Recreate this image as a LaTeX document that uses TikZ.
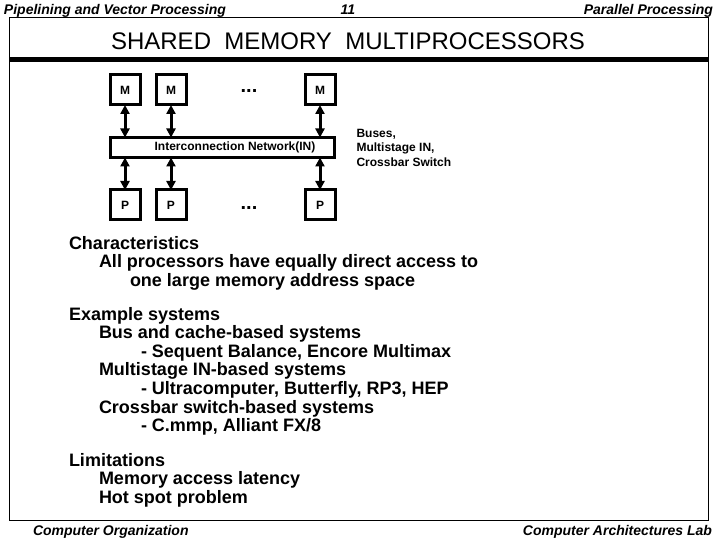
\documentclass[tikz,border=0pt]{standalone}
\usepackage{fontspec}
\setmainfont{Liberation Sans}
\usetikzlibrary{arrows.meta,positioning}

\begin{document}
\begin{tikzpicture}[
  x=1pt, y=-1pt,
  every node/.style={inner sep=0pt, outer sep=0pt},
  unit/.style  ={draw, line width=3pt, minimum width=30pt,
                 minimum height=30pt,
                 font=\fontsize{12}{14}\selectfont\bfseries},
  net/.style   ={draw, line width=3pt, minimum width=224pt,
                 minimum height=20pt,
                 font=\fontsize{12}{14}\selectfont\bfseries},
  dots/.style  ={font=\fontsize{20}{22}\selectfont\bfseries},
  note/.style  ={font=\fontsize{12}{14.5}\selectfont\bfseries, align=left},
  hdr/.style   ={font=\fontsize{14}{16}\selectfont\bfseries\itshape},
  body/.style  ={font=\fontsize{18}{18.6}\selectfont\bfseries,
                 align=left, anchor=north west},
  link/.style  ={<->, line width=3pt},
  >={Triangle[length=9pt,width=9pt]}
]

\useasboundingbox (0,0) rectangle (720,540);

%% ---- Page frame ------------------------------------------------------
\draw[line width=1pt] (9,18) rectangle (708,520);
\draw[line width=5pt] (9,60) -- (708,60);

% header and footer
\node[hdr, anchor=base west] (hleft)  at (4,15)   {Pipelining and Vector Processing};
\node[hdr, anchor=base]      (hpage)  at (348,15) {11};
\node[hdr, anchor=base east] (hright) at (713,15) {Parallel Processing};
\node[hdr, anchor=base west] (fleft)  at (33,535) {Computer Organization};
\node[hdr, anchor=base east] (fright) at (712,535) {Computer Architectures Lab};

% title
\node[anchor=base, font=\fontsize{24}{28}\selectfont] (title) at (348,50)
     {SHARED\ \ MEMORY\ \ MULTIPROCESSORS};

%% ---- Memories, network, processors -----------------------------------
\node[unit]                   (m1) at (125,90) {M};
\node[unit, right=16 of m1]   (m2)             {M};
\node[unit]                   (m3) at (320,90) {M};
\node[dots]                   (mdots) at (249,91) {...};

\node[net] (in) at (222.5,147.5) {\hspace*{25pt}Interconnection Network(IN)};

\node[unit]                   (p1) at (125,205) {P};
\node[unit, right=16 of p1]   (p2)              {P};
\node[unit]                   (p3) at (320,205) {P};
\node[dots]                   (pdots) at (249,208) {...};

\foreach \u in {m1,m2,m3}
  \draw[link] (\u.south) -- (\u.south |- in.north);
\foreach \u in {p1,p2,p3}
  \draw[link] (\u.north) -- (\u.north |- in.south);

\node[note, right=22 of in] (kinds)
     {Buses,\\Multistage IN,\\Crossbar Switch};

%% ---- Text blocks -----------------------------------------------------
\node[body] (chars) at (69,236)
     {Characteristics\\
      \hspace*{30pt}All processors have equally direct access to\\
      \hspace*{61pt}one large memory address space};

\node[body] (examples) at (69,307)
     {Example systems\\
      \hspace*{30pt}Bus and cache-based systems\\
      \hspace*{72pt}- Sequent Balance, Encore Multimax\\
      \hspace*{30pt}Multistage IN-based systems\\
      \hspace*{72pt}- Ultracomputer, Butterfly, RP3, HEP\\
      \hspace*{30pt}Crossbar switch-based systems\\
      \hspace*{72pt}- C.mmp, Alliant FX/8};

\node[body] (limits) at (69,453)
     {Limitations\\
      \hspace*{30pt}Memory access latency\\
      \hspace*{30pt}Hot spot problem};

\end{tikzpicture}
\end{document}
